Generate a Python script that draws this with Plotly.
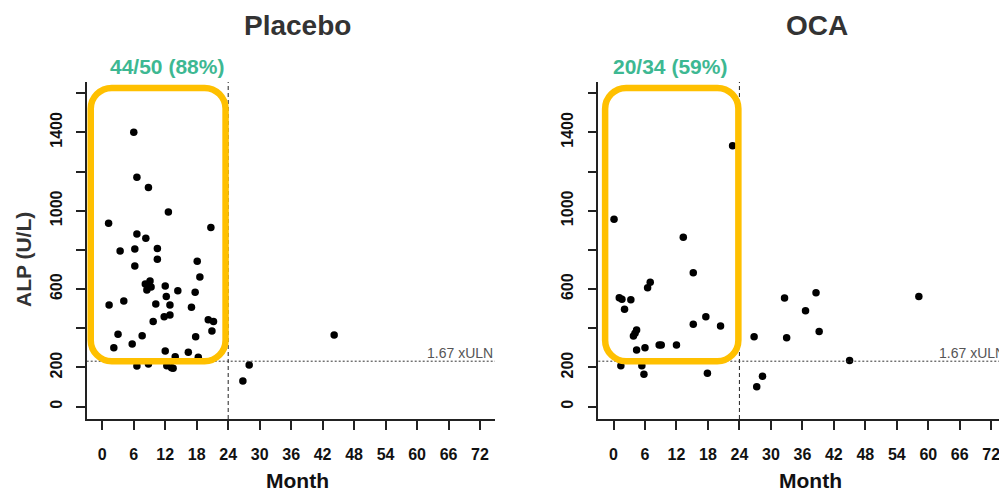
import plotly.graph_objects as go

# ALP values by month of follow-up, one pair of lists per treatment arm
placebo_month = [6.0, 6.6, 8.8, 12.6, 1.2, 20.7, 6.6, 8.3, 3.4, 6.2, 10.5, 10.5, 6.2, 18.1, 18.6,
                 8.2, 9.1, 9.3, 8.5, 12.0, 14.4, 17.7, 12.2, 4.1, 1.3, 10.2, 12.9, 17.0, 12.9, 11.8,
                 9.7, 20.2, 21.2, 20.9, 3.0, 7.6, 17.8, 2.2, 5.7, 12.0, 16.4, 13.9, 18.3, 6.6, 8.8,
                 12.3, 13.2, 13.5, 28.0, 26.8, 44.2]
placebo_alp = [1401, 1171, 1118, 994, 936, 914, 881, 860, 795, 805, 807, 752, 718, 742, 662,
               626, 641, 611, 595, 616, 592, 584, 562, 539, 519, 524, 519, 507, 468, 459,
               434, 443, 434, 386, 369, 362, 357, 301, 320, 284, 278, 255, 252, 208, 218,
               209, 199, 196, 213, 131, 366]

oca_month = [22.7, 0.1, 13.3, 15.2, 7.0, 6.5, 1.1, 1.6, 3.3, 2.1, 17.6, 15.2, 20.4, 4.4, 4.1,
             3.8, 8.7, 9.1, 12.0, 6.0, 4.4, 1.4, 5.4, 5.8, 17.9, 28.4, 27.3, 26.8, 32.6, 33.0,
             38.6, 36.6, 39.2, 58.2, 45.0]
oca_alp = [1331, 957, 865, 684, 635, 607, 556, 548, 545, 497, 459, 420, 412, 391, 375,
           361, 315, 315, 315, 301, 289, 209, 209, 165, 170, 155, 102, 357, 555, 352,
           582, 490, 383, 562, 235]

panel_titles = ["Placebo", "OCA"]
response_labels = ["44/50 (88%)", "20/34 (59%)"]

uln_threshold = 232          # 1.67 x ULN
month_cutoff = 24
x_ticks = list(range(0, 73, 6))
y_ticks = list(range(0, 1601, 200))
y_ticktext = ["0", "200", "", "600", "", "1000", "", "1400", ""]

W, H = 999, 490
FONT = "Liberation Sans, Arial, sans-serif"
ORANGE = "#FFC000"
TEAL = "#3DB892"

fig = go.Figure()

panels = [
    dict(xdom=(86.7, 495.0), xrange=(-2.97, 74.86), month=placebo_month, alp=placebo_alp,
         box=(-2.2, 23.5), label_right=1.0, title_x=297, label_x=167, month_x=297),
    dict(xdom=(598.3, 999.0), xrange=(-2.90, 73.48), month=oca_month, alp=oca_alp,
         box=(-1.6, 23.8), label_right=1.019, title_x=817, label_x=670, month_x=810),
]
ydom = ((H - 419) / H, (H - 82) / H)
yrange = (-63, 1657)

for i, p in enumerate(panels):
    sfx = "" if i == 0 else str(i + 1)
    xa, ya = "x" + sfx, "y" + sfx
    fig.add_trace(go.Scatter(
        x=p["month"], y=p["alp"], mode="markers", xaxis=xa, yaxis=ya,
        marker=dict(color="black", size=7.5, line=dict(width=0)),
        showlegend=False, hoverinfo="x+y"))

    axis_common = dict(showline=True, linecolor="#222", linewidth=1.6, ticks="outside",
                       ticklen=9, tickwidth=1.5, tickcolor="#222", showgrid=False, zeroline=False,
                       ticklabeloverflow="allow",
                       tickfont=dict(family=FONT, size=16, color="#111", weight="bold"))
    fig.update_layout(**{
        "xaxis" + sfx: dict(domain=[p["xdom"][0] / W, p["xdom"][1] / W], range=list(p["xrange"]),
                            tickvals=x_ticks, anchor=ya, ticklabelstandoff=11, **axis_common),
        "yaxis" + sfx: dict(domain=list(ydom), range=list(yrange), tickvals=y_ticks,
                            ticktext=y_ticktext, tickangle=-90, anchor=xa, ticklabelstandoff=8,
                            **axis_common),
    })

    # reference lines: month 24 cutoff and 1.67 x ULN threshold
    fig.add_shape(type="line", xref=xa, yref=ya + " domain", x0=month_cutoff, x1=month_cutoff,
                  y0=0, y1=1, line=dict(color="#222", width=1, dash="4px,3px"))
    fig.add_shape(type="line", xref=xa + " domain", yref=ya, x0=0, x1=1,
                  y0=uln_threshold, y1=uln_threshold, line=dict(color="#333", width=1, dash="2px,2px"))
    fig.add_annotation(text="1.67 xULN", xref=xa + " domain", yref=ya, x=p["label_right"],
                       y=uln_threshold, xanchor="right", yanchor="bottom", showarrow=False,
                       font=dict(family=FONT, size=14, color="#555"), yshift=-2)

    # rounded highlight box around responders within the first 24 months
    x0, x1 = p["box"]
    y0, y1 = uln_threshold, 1627
    rx, ry = 4.0, 107
    k = 0.45
    path = (f"M {x0 + rx},{y1} L {x1 - rx},{y1} "
            f"C {x1 - rx * k},{y1} {x1},{y1 - ry * k} {x1},{y1 - ry} "
            f"L {x1},{y0 + ry} "
            f"C {x1},{y0 + ry * k} {x1 - rx * k},{y0} {x1 - rx},{y0} "
            f"L {x0 + rx},{y0} "
            f"C {x0 + rx * k},{y0} {x0},{y0 + ry * k} {x0},{y0 + ry} "
            f"L {x0},{y1 - ry} "
            f"C {x0},{y1 - ry * k} {x0 + rx * k},{y1} {x0 + rx},{y1} Z")
    fig.add_shape(type="path", xref=xa, yref=ya, path=path, layer="above",
                  line=dict(color=ORANGE, width=6.5))

    fig.add_annotation(text=f"<b>{panel_titles[i]}</b>", xref="paper", yref="paper",
                       x=p["title_x"] / W, y=1 - 26 / H, xanchor="center", yanchor="middle",
                       showarrow=False, font=dict(family=FONT, size=28, color="#333"))
    fig.add_annotation(text=f"<b>{response_labels[i]}</b>", xref="paper", yref="paper",
                       x=p["label_x"] / W, y=1 - 67 / H, xanchor="center", yanchor="middle",
                       showarrow=False, font=dict(family=FONT, size=21, color=TEAL))
    fig.add_annotation(text="<b>Month</b>", xref="paper", yref="paper",
                       x=p["month_x"] / W, y=1 - 480 / H, xanchor="center", yanchor="middle",
                       showarrow=False, font=dict(family=FONT, size=21, color="#111"))

fig.add_annotation(text="<b>ALP (U/L)</b>", xref="paper", yref="paper", x=23 / W, y=1 - 260 / H,
                   xanchor="center", yanchor="middle", textangle=-90, showarrow=False,
                   font=dict(family=FONT, size=21, color="#333"))

fig.update_layout(width=W, height=H, margin=dict(l=0, r=0, t=0, b=0),
                  plot_bgcolor="white", paper_bgcolor="white", showlegend=False)

fig.write_html("out.html")
